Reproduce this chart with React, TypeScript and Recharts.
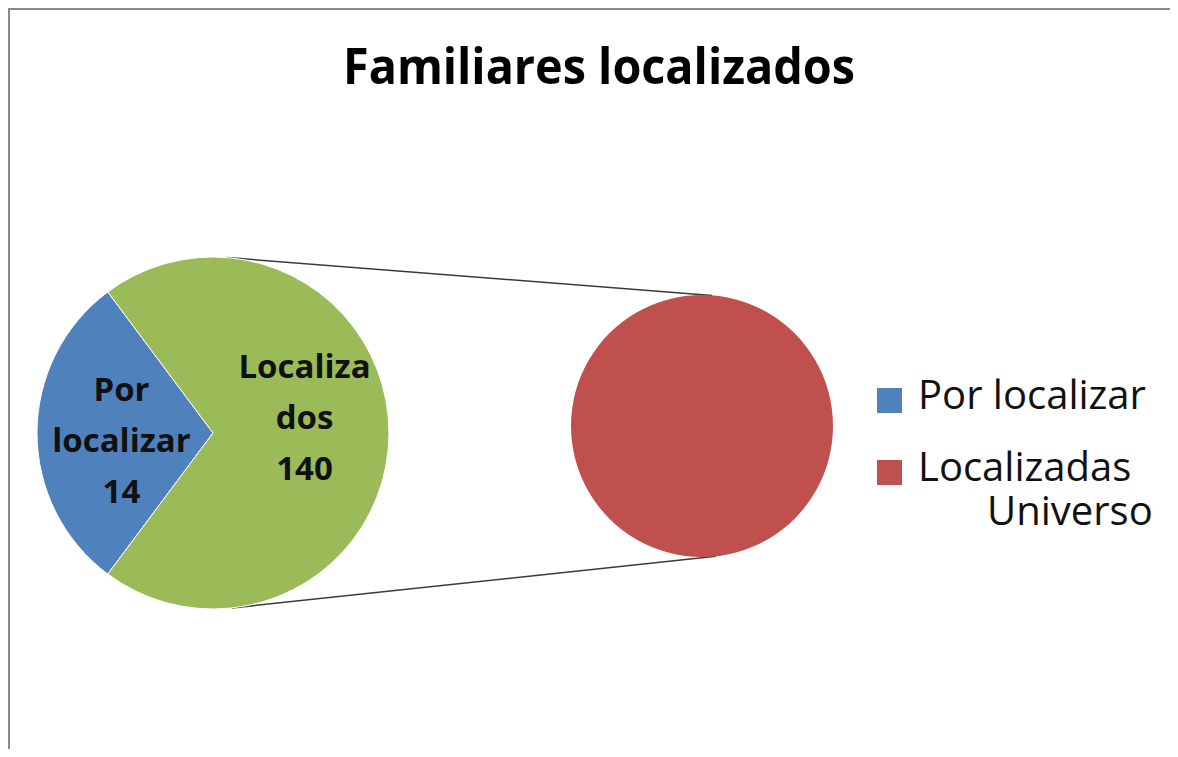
import React, { useEffect } from 'react';
import { PieChart, Pie, Cell, Customized } from 'recharts';

// ---- data ----
const titleText = 'Familiares localizados';
const mainNames = ['Por localizar', 'Localizados'];
const mainCounts = [14, 140];
// share of the left pie taken by each slice, as drawn in the picture (%)
const mainShares = [29.6, 70.4];
const mainLabelLines = [
  ['Por', 'localizar', '14'],
  ['Localiza', 'dos', '140'],
];
const mainColors = ['#4F81BD', '#9BBB59'];
const secondNames = ['Localizadas Universo'];
const secondValues = [140];
const secondColors = ['#C0504D'];
const legendLines = [['Por localizar'], ['Localizadas', 'Universo']];
const legendColors = ['#4F81BD', '#C0504D'];

// ---- layout ----
const W = 1162;
const H = 741;
const LEFT = { cx: 205, cy: 425, r: 176 };
const RIGHT = { cx: 694, cy: 418, r: 131 };
const LEGEND = { x: 861, y: 362 };
const FONT = '"Open Sans", Lato, sans-serif';
const labelShiftY = [6, -17];

const mainData = mainNames.map((name, i) => ({
  name,
  value: mainShares[i],
  count: mainCounts[i],
  lines: mainLabelLines[i],
}));
const secondData = secondNames.map((name, i) => ({ name, value: secondValues[i] }));

const total = mainShares.reduce((a, b) => a + b, 0);
const startAngle = 180 - (mainShares[0] / total) * 180;

const RAD = Math.PI / 180;
const renderMainLabel = (props: any) => {
  const { cx, cy, midAngle, outerRadius, index } = props;
  const rr = outerRadius * 0.52;
  const x = cx + rr * Math.cos(-midAngle * RAD);
  const y = cy + rr * Math.sin(-midAngle * RAD) + labelShiftY[index];
  const lines: string[] = mainData[index].lines;
  const step = 51;
  return (
    <g key={`lbl-${index}`}>
      {lines.map((t, j) => (
        <text
          key={j}
          x={x}
          y={y + (j - (lines.length - 1) / 2) * step}
          textAnchor="middle"
          dominantBaseline="central"
          fontFamily={FONT}
          fontWeight={700}
          fontSize={33}
          fill="#111"
        >
          {t}
        </text>
      ))}
    </g>
  );
};

const Extras = () => {
  const dx = RIGHT.cx - LEFT.cx;
  const dy = RIGHT.cy - LEFT.cy;
  const d = Math.hypot(dx, dy);
  const phi = Math.atan2(dy, dx);
  const a = Math.acos((LEFT.r - RIGHT.r) / d);
  return (
    <g>
      <text
        x={591}
        y={76}
        textAnchor="middle"
        fontFamily={FONT}
        fontWeight={700}
        fontSize={50}
        textLength={512}
        lengthAdjust="spacingAndGlyphs"
        fill="#000"
      >
        {titleText}
      </text>
      {[phi - a, phi + a].map((t, i) => (
        <line
          key={i}
          x1={LEFT.cx + LEFT.r * Math.cos(t)}
          y1={LEFT.cy + LEFT.r * Math.sin(t)}
          x2={RIGHT.cx + RIGHT.r * Math.cos(t)}
          y2={RIGHT.cy + RIGHT.r * Math.sin(t)}
          stroke="#3a3a3a"
          strokeWidth={1.5}
        />
      ))}
      <g transform={`translate(${LEGEND.x},${LEGEND.y})`}>
        {legendLines.map((lines, i) => {
          const top = 18 + i * 72;
          return (
            <g key={i}>
              <rect x={8} y={top} width={25} height={25} fill={legendColors[i]} />
              {lines.map((t, j) => (
                <text
                  key={j}
                  x={j === 0 ? 49 : 118}
                  y={top + 21 + j * 44}
                  fontFamily={FONT}
                  fontSize={40}
                  fill="#111"
                >
                  {t}
                </text>
              ))}
            </g>
          );
        })}
      </g>
    </g>
  );
};

export default function App() {
  useEffect(() => {
    document.documentElement.style.overflow = 'hidden';
    document.body.style.overflow = 'hidden';
  }, []);
  return (
    <div style={{ position: 'relative', width: W, height: H, background: '#fff', overflow: 'hidden' }}>
      <PieChart width={W} height={H} margin={{ top: 0, right: 0, bottom: 0, left: 0 }}>
        <Pie
          data={mainData}
          dataKey="value"
          nameKey="name"
          cx={LEFT.cx}
          cy={LEFT.cy}
          outerRadius={LEFT.r}
          innerRadius={0}
          startAngle={startAngle}
          endAngle={startAngle + 360}
          stroke="#ffffff"
          strokeWidth={1}
          label={renderMainLabel}
          labelLine={false}
          isAnimationActive={false}
        >
          {mainData.map((d, i) => (
            <Cell key={d.name} fill={mainColors[i]} />
          ))}
        </Pie>
        <Pie
          data={secondData}
          dataKey="value"
          nameKey="name"
          cx={RIGHT.cx}
          cy={RIGHT.cy}
          outerRadius={RIGHT.r}
          innerRadius={0}
          stroke="none"
          label={false}
          labelLine={false}
          isAnimationActive={false}
        >
          {secondData.map((d, i) => (
            <Cell key={d.name} fill={secondColors[i]} />
          ))}
        </Pie>
        <Customized component={<Extras />} />
      </PieChart>
      <div
        style={{
          position: 'absolute',
          left: 0,
          top: 0,
          width: W,
          height: H,
          borderLeft: '2px solid #8a8a8a',
          borderTop: '2px solid #8a8a8a',
          boxSizing: 'border-box',
          pointerEvents: 'none',
        }}
      />
    </div>
  );
}
